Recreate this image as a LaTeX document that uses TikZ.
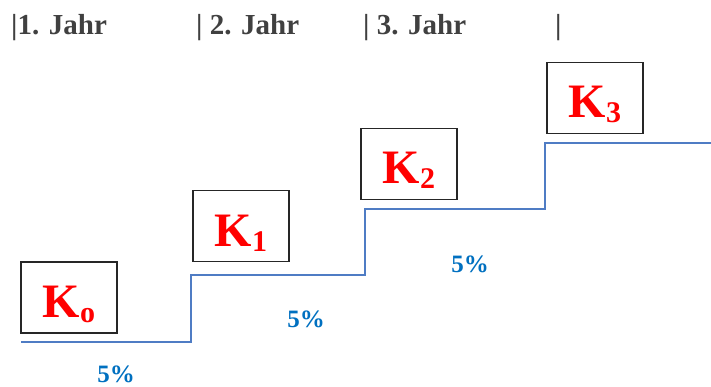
\documentclass[tikz,border=0pt]{standalone}
\usepackage{fontspec}
\setmainfont{Liberation Serif}
\usepackage{xcolor}
\definecolor{zinsblue}{RGB}{0,112,192}
\definecolor{stepblue}{RGB}{79,124,196}
\definecolor{headgray}{RGB}{64,64,64}
\usetikzlibrary{positioning}

\newcommand{\ksub}[1]{\raisebox{-5pt}{\fontsize{30}{30}\selectfont #1}}

\begin{document}
\begin{tikzpicture}[x=1pt,y=-1pt,
  kbox/.style={draw=black!85,line width=1.1pt,minimum width=96pt,minimum height=71pt,inner sep=0pt,
    text height=40pt,text depth=0pt,text=red,font=\fontsize{48}{48}\selectfont\bfseries},
  yearlabel/.style={anchor=base west,inner sep=0pt,text=headgray,font=\fontsize{29}{29}\selectfont\bfseries},
  rate/.style={anchor=base,inner sep=0pt,text=zinsblue,font=\fontsize{25}{25}\selectfont\bfseries},
  stepline/.style={stepblue,line width=2.2pt}]
  \useasboundingbox (0,0) rectangle (711,387);
  % Jahre
  \node[yearlabel] (y1) at (11,35) {|1. Jahr};
  \node[yearlabel] (y2) at (196,35) {| 2. Jahr};
  \node[yearlabel] (y3) at (363,35) {| 3. Jahr};
  \node[yearlabel] (y4) at (555,35) {|};
  % Treppe
  \draw[stepline] (21,342) -- (191,342) -- (191,275) -- (365,275) -- (365,209)
    -- (545,209) -- (545,143) -- (711,143);
  % Kapital
  \node[kbox] (k0) at (69,297.5) {K\ksub{o}};
  \node[kbox] (k1) at (241,226) {K\ksub{1}};
  \node[kbox] (k2) at (409,164) {K\ksub{2}};
  \node[kbox] (k3) at (595,98) {K\ksub{3}};
  % Zinsen
  \node[rate] (r1) at (116,382) {5\%};
  \node[rate] (r2) at (306,327) {5\%};
  \node[rate] (r3) at (470,272) {5\%};
\end{tikzpicture}
\end{document}
